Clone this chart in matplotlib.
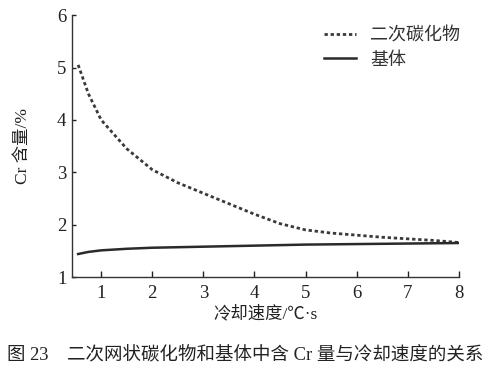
import matplotlib
matplotlib.use("Agg")
from matplotlib import pyplot as plt

plt.rcParams['font.family'] = ['Liberation Serif', 'Noto Sans CJK SC']

carbide_x = [0.55, 0.75, 1.0, 1.5, 2.0, 2.5, 3.0, 3.5, 4.0, 4.5, 5.0, 5.5, 6.0, 6.5, 7.0, 7.5, 8.0]
carbide_y = [5.05, 4.5, 4.0, 3.45, 3.05, 2.8, 2.6, 2.4, 2.2, 2.02, 1.9, 1.84, 1.8, 1.76, 1.73, 1.7, 1.66]

matrix_x = [0.55, 0.75, 1.0, 1.5, 2.0, 3.0, 4.0, 5.0, 6.0, 7.0, 8.0]
matrix_y = [1.44, 1.48, 1.51, 1.54, 1.56, 1.58, 1.60, 1.62, 1.63, 1.64, 1.65]

x_ticks = [1, 2, 3, 4, 5, 6, 7, 8]
y_ticks = [1, 2, 3, 4, 5, 6]

fig = plt.figure(figsize=(4.95, 3.78), dpi=100)
ax = fig.add_axes([0.1455, 0.267, 0.7815, 0.693])

ax.plot(carbide_x, carbide_y, color='#3a3a3a', lw=2.0, linestyle=(0, (1.2, 1.0)), label='二次碳化物')
ax.plot(matrix_x, matrix_y, color='#2a2a2a', lw=1.8, label='基体')

ax.set_xlim(0.43, 8)
ax.set_ylim(1, 6)
ax.set_xticks(x_ticks)
ax.set_yticks(y_ticks)
ax.tick_params(direction='in', length=4, width=1, labelsize=13.5, colors='#222222')
ax.tick_params(axis='y', length=3, pad=4)
ax.tick_params(axis='x', pad=6)
for s in ['top', 'right']:
    ax.spines[s].set_visible(False)
for s in ['left', 'bottom']:
    ax.spines[s].set_color('#333333')
    ax.spines[s].set_linewidth(1.0)

ax.set_xlabel('冷却速度/℃·s', fontsize=12.5, color='#222222', labelpad=2)
ax.set_ylabel('Cr 含量/%', fontsize=12.5, color='#222222', labelpad=19)

leg = ax.legend(loc='upper right', bbox_to_anchor=(1.045, 1.015), frameon=False, fontsize=13,
                handlelength=1.8, handletextpad=0.75, labelspacing=0.4)
for t in leg.get_texts():
    t.set_color('#333333')

fig.text(0.015, 0.047, '图 23    二次网状碳化物和基体中含 Cr 量与冷却速度的关系',
         fontsize=13.3, color='#222222')

fig.savefig('out.png', dpi=100)
